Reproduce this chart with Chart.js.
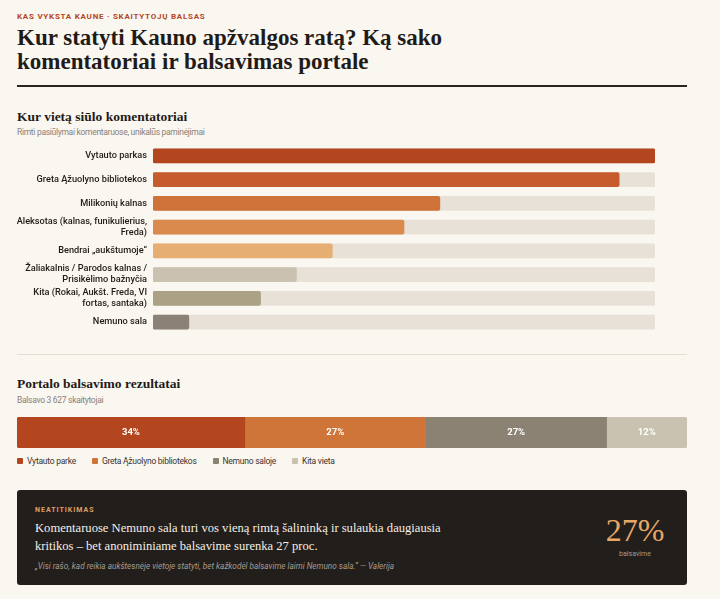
<!DOCTYPE html>
<html>
<head>
<meta charset="utf-8">
<script src="https://cdn.jsdelivr.net/npm/chart.js@4.4.1/dist/chart.umd.min.js"></script>
<style>
  html,body{margin:0;padding:0;background:#faf6f0;}
  body{width:720px;height:599px;position:relative;overflow:hidden;font-family:Roboto,"Noto Sans",sans-serif;color:#1f1b18;}
  .abs{position:absolute;}
  .kicker{left:17px;top:12px;font-size:8px;font-weight:700;letter-spacing:0.75px;color:#b5461f;line-height:10px;}
  h1{position:absolute;margin:0;left:17px;top:26px;font-family:"Liberation Serif",serif;font-weight:700;font-size:23px;line-height:24px;color:#1f1b18;}
  .rule{left:17px;top:85px;width:670px;height:2px;background:#2a2522;}
  .h2{left:17px;font-family:"Liberation Serif",serif;font-weight:700;font-size:13.5px;line-height:18px;color:#1f1b18;}
  .sub{left:17px;font-size:8.5px;letter-spacing:-0.3px;line-height:10px;color:#8a8178;}
  .divider{left:17px;top:354px;width:670px;height:1px;background:#e4ddd2;}
  .legend{left:17px;top:455px;font-size:8.5px;letter-spacing:-0.25px;line-height:12px;color:#3a3430;display:flex;gap:16px;}
  .legend span.sw{display:inline-block;width:6px;height:6px;margin-right:4px;vertical-align:0px;border-radius:1px;}
  .box{left:17px;top:490px;width:670px;height:95px;background:#221e1b;border-radius:3px;}
  .box .tag{position:absolute;left:18px;top:16px;font-size:7px;font-weight:700;letter-spacing:1px;color:#e0a062;}
  .box .main{position:absolute;left:18px;top:29px;width:415px;font-family:"Liberation Serif",serif;font-size:12.6px;line-height:18px;color:#f5efe6;}
  .box .quote{position:absolute;left:18px;top:71px;font-size:8.2px;font-style:italic;color:#a59c90;}
  .box .big{position:absolute;left:578px;top:23px;width:80px;text-align:center;font-family:"Liberation Serif",serif;font-size:32px;line-height:34px;color:#e6a866;}
  .box .bigsub{position:absolute;left:578px;top:60px;width:80px;text-align:center;font-size:7px;color:#a59c90;}
</style>
</head>
<body>
<div class="abs kicker">KAS VYKSTA KAUNE · SKAITYTOJŲ BALSAS</div>
<h1>Kur statyti Kauno apžvalgos ratą? Ką sako<br>komentatoriai ir balsavimas portale</h1>
<div class="abs rule"></div>

<div class="abs h2" style="top:108px;">Kur vietą siūlo komentatoriai</div>
<div class="abs sub" style="top:127px;">Rimti pasiūlymai komentaruose, unikalūs paminėjimai</div>
<div class="abs" style="left:0px;top:144px;width:687px;height:190px;"><canvas id="c1"></canvas></div>

<div class="abs divider"></div>

<div class="abs h2" style="top:375px;">Portalo balsavimo rezultatai</div>
<div class="abs sub" style="top:395px;">Balsavo 3 627 skaitytojai</div>
<div class="abs" style="left:17px;top:417px;width:670px;height:31px;"><canvas id="c2"></canvas></div>
<div class="abs legend" id="legend"></div>

<div class="abs box">
  <div class="tag">NEATITIKIMAS</div>
  <div class="main">Komentaruose Nemuno sala turi vos vieną rimtą šalininką ir sulaukia daugiausia kritikos – bet anoniminiame balsavime surenka 27 proc.</div>
  <div class="quote">„Visi rašo, kad reikia aukštesnėje vietoje statyti, bet kažkodėl balsavime laimi Nemuno sala.“ — Valerija</div>
  <div class="big">27%</div>
  <div class="bigsub">balsavime</div>
</div>

<script>
// ---- Data: comment mentions ----
const placeLabels = [
  "Vytauto parkas",
  "Greta Ąžuolyno bibliotekos",
  "Milikonių kalnas",
  ["Aleksotas (kalnas, funikulierius,", "Freda)"],
  "Bendrai „aukštumoje“",
  ["Žaliakalnis / Parodos kalnas /", "Prisikėlimo bažnyčia"],
  ["Kita (Rokai, Aukšt. Freda, VI", "fortas, santaka)"],
  "Nemuno sala"
];
const placeMentions = [14, 13, 8, 7, 5, 4, 3, 1];
const placeColors = ["#b4461f", "#c65c2d", "#d0733a", "#d98a4c", "#e6ae72", "#cac1b0", "#aba184", "#8b8275"];
const trackColor = "#e7e1d7";

// ---- Data: portal vote ----
const voteLabels = ["Vytauto parke", "Greta Ąžuolyno bibliotekos", "Nemuno saloje", "Kita vieta"];
const voteShares = [34, 27, 27, 12];
const voteColors = ["#b3461f", "#d0753a", "#8c8274", "#cac2b1"];

const maxMentions = Math.max(...placeMentions);

new Chart(document.getElementById('c1'), {
  type: 'bar',
  data: {
    labels: placeLabels,
    datasets: [
      { data: placeMentions, backgroundColor: placeColors, barThickness: 14, borderRadius: 2, borderSkipped: false, order: 1 },
      { data: placeLabels.map(() => maxMentions), backgroundColor: trackColor, barThickness: 14, borderRadius: 2, borderSkipped: false, order: 2 }
    ]
  },
  options: {
    indexAxis: 'y',
    responsive: true,
    maintainAspectRatio: false,
    animation: false,
    layout: { padding: { left: 0, right: 32, top: 0, bottom: 0 } },
    plugins: { legend: { display: false }, tooltip: { enabled: false } },
    datasets: { bar: { grouped: false } },
    scales: {
      x: { display: false, min: 0, max: maxMentions, grid: { display: false } },
      y: {
        border: { display: false },
        grid: { display: false, drawTicks: false },
        afterFit: (s) => { s.width = 153; s.paddingTop = 0; s.paddingBottom = 0; },
        ticks: { autoSkip: false, color: '#1f1b18', font: { family: 'Roboto', size: 9.2, weight: '500', lineHeight: 1.2 }, padding: 6 }
      }
    }
  }
});

const labelPlugin = {
  id: 'inlineLabels',
  afterDatasetsDraw(chart) {
    const ctx = chart.ctx;
    ctx.save();
    ctx.fillStyle = '#ffffff';
    ctx.font = '700 9.5px Roboto';
    ctx.textAlign = 'center';
    ctx.textBaseline = 'middle';
    chart.data.datasets.forEach((ds, i) => {
      const el = chart.getDatasetMeta(i).data[0];
      const cx = (el.x + el.base) / 2;
      ctx.fillText(ds.data[0] + '%', cx, el.y);
    });
    ctx.restore();
  }
};

new Chart(document.getElementById('c2'), {
  type: 'bar',
  data: {
    labels: ['Balsavimas'],
    datasets: voteLabels.map((l, i) => ({
      label: l,
      data: [voteShares[i]],
      backgroundColor: voteColors[i],
      borderSkipped: false,
      borderRadius: i === 0 ? { topLeft: 3, bottomLeft: 3, topRight: 0, bottomRight: 0 }
                  : (i === voteLabels.length - 1 ? { topLeft: 0, bottomLeft: 0, topRight: 3, bottomRight: 3 } : 0),
      barPercentage: 1,
      categoryPercentage: 1
    }))
  },
  options: {
    indexAxis: 'y',
    responsive: true,
    maintainAspectRatio: false,
    animation: false,
    layout: { padding: 0 },
    plugins: { legend: { display: false }, tooltip: { enabled: false } },
    scales: {
      x: { display: false, stacked: true, min: 0, max: 100 },
      y: { display: false, stacked: true }
    }
  },
  plugins: [labelPlugin]
});

const leg = document.getElementById('legend');
voteLabels.forEach((l, i) => {
  const d = document.createElement('div');
  d.innerHTML = '<span class="sw" style="background:' + voteColors[i] + '"></span>' + l;
  leg.appendChild(d);
});
</script>
</body>
</html>
